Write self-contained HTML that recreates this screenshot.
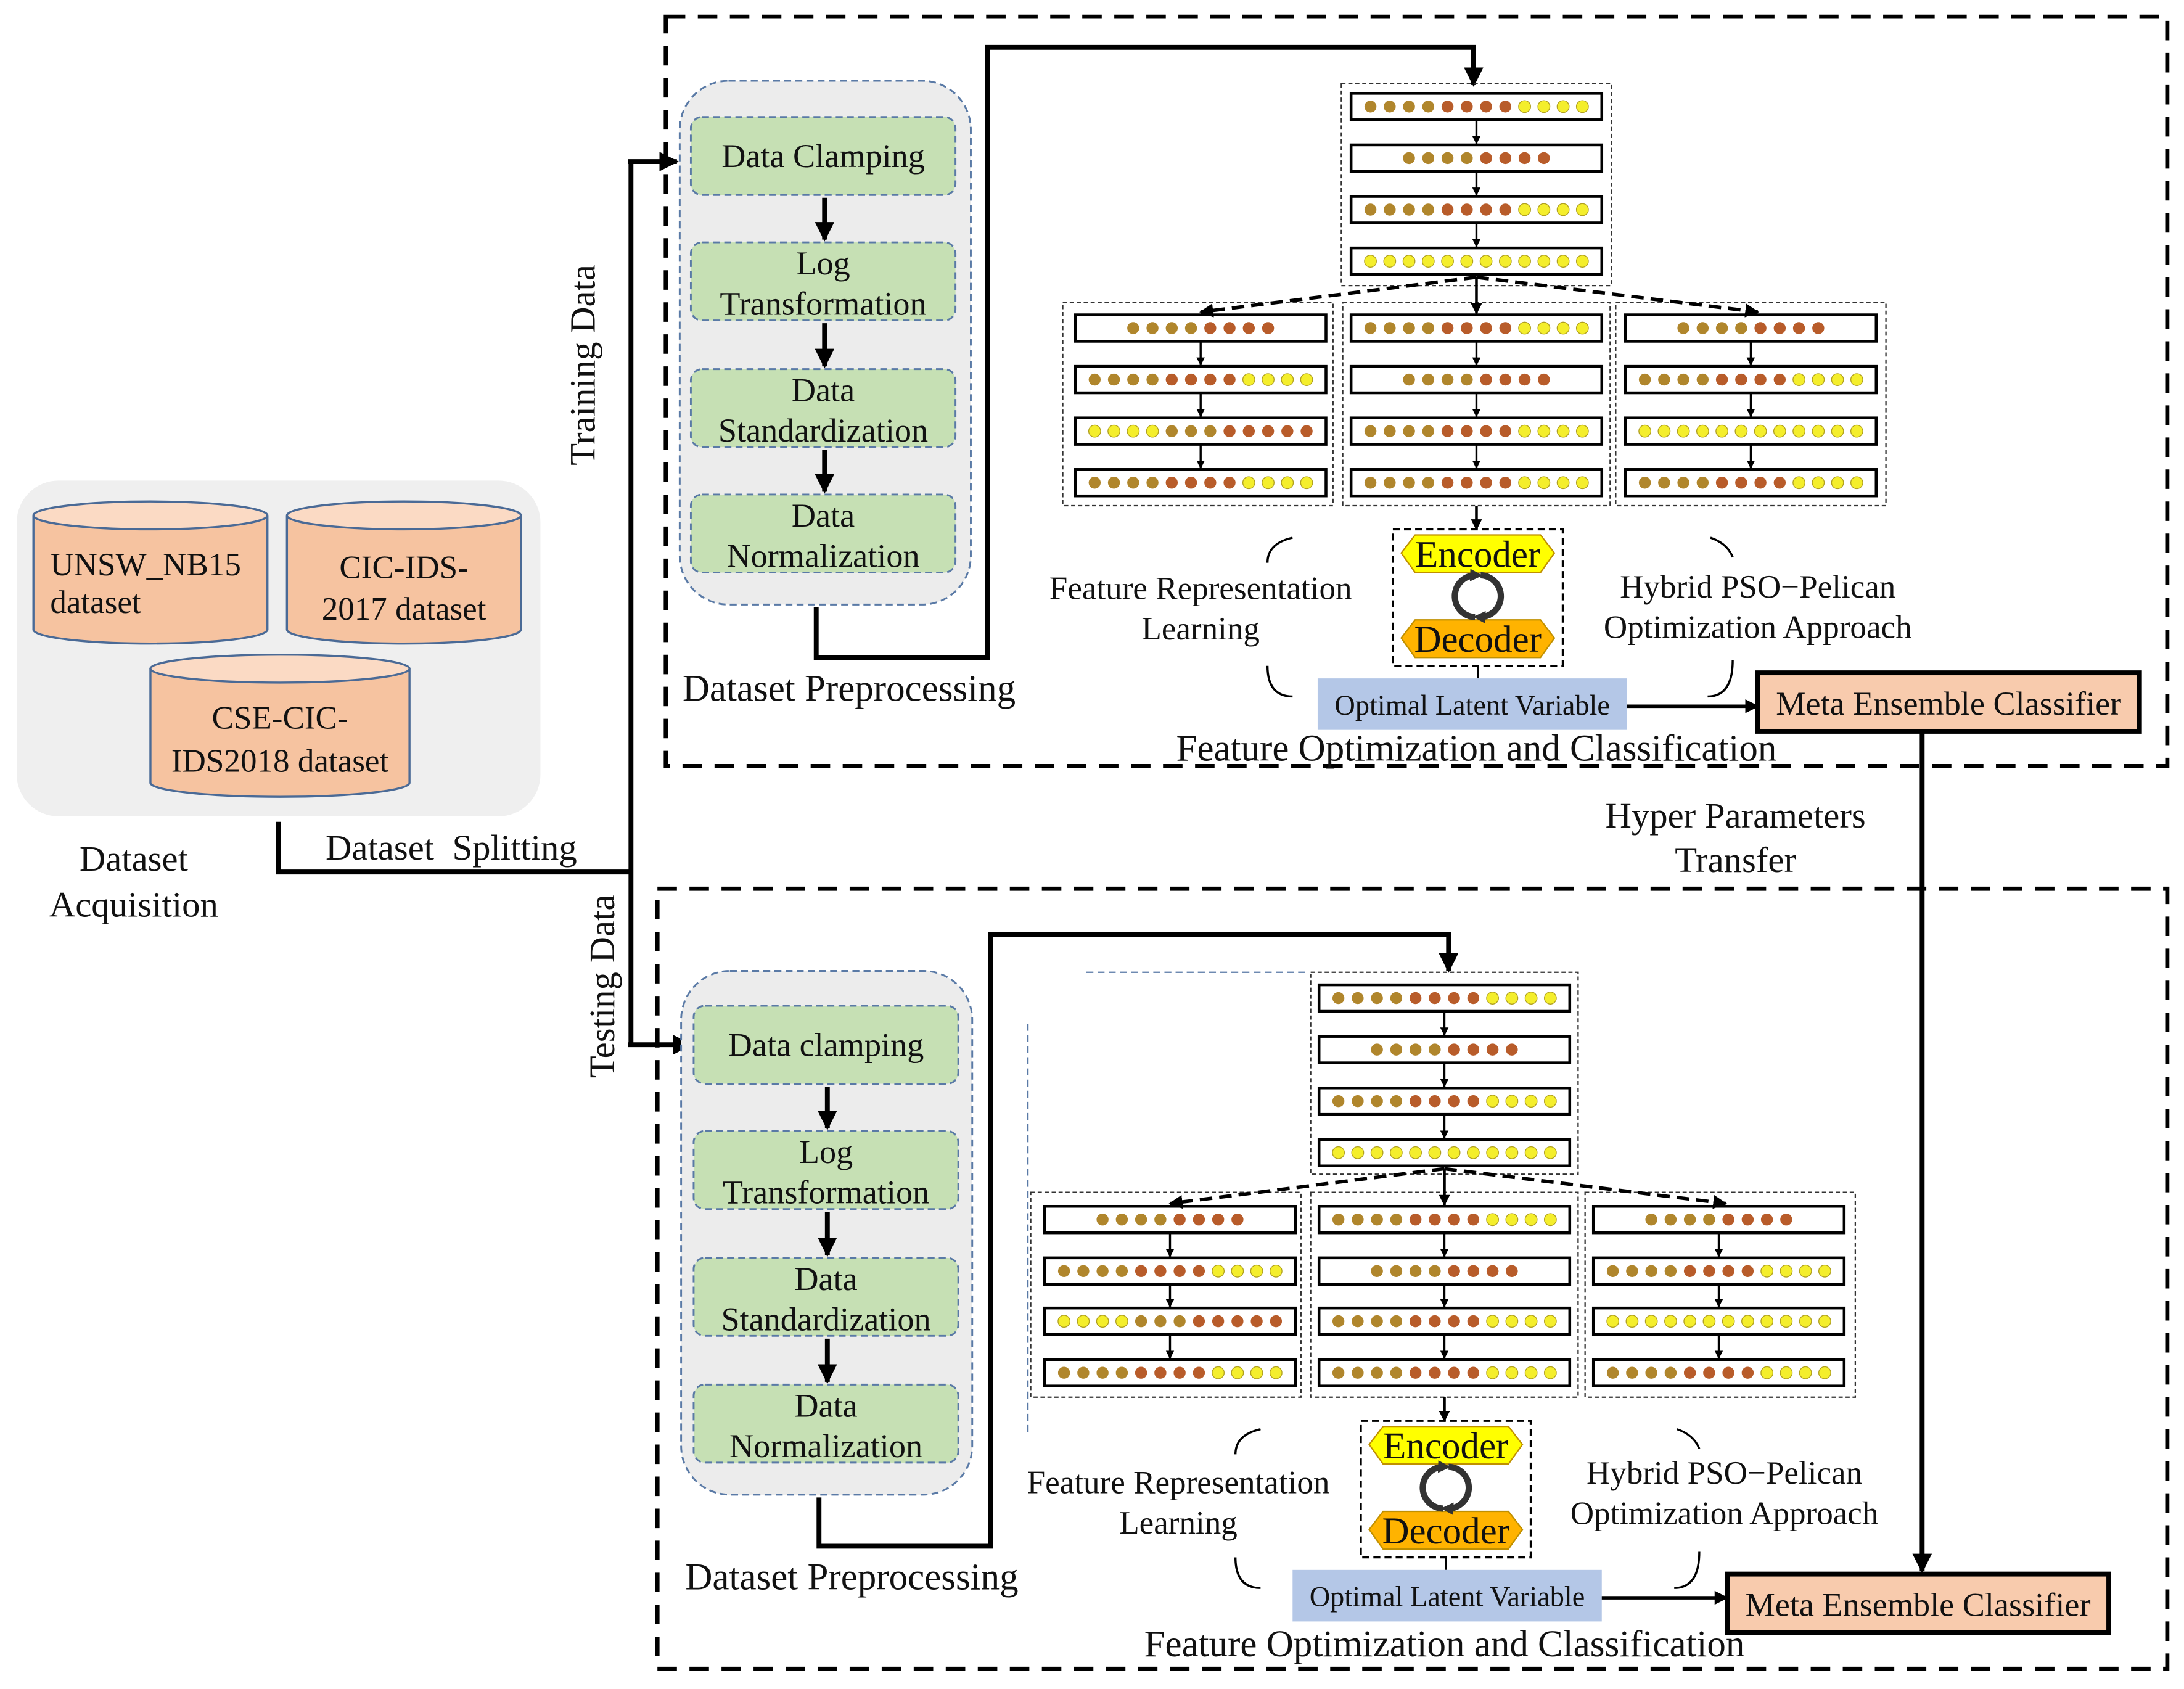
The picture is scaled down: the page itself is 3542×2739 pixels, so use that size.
<!DOCTYPE html>
<html><head><meta charset="utf-8"><style>
html,body{margin:0;padding:0;background:#fff;}
svg{display:block}
text{font-family:"Liberation Serif","Times New Roman",serif;fill:#111}
</style></head><body>
<svg id="s" xmlns="http://www.w3.org/2000/svg" width="3542" height="2739" viewBox="0 0 1568 1212.5" font-family="Liberation Serif, serif">
<defs>
<marker id="ah" viewBox="0 0 10 10" refX="9" refY="5" markerWidth="4" markerHeight="4" orient="auto"><path d="M0,0L10,5L0,10z" fill="#000"/></marker>
<marker id="as" viewBox="0 0 10 10" refX="5" refY="5" markerWidth="9" markerHeight="9" markerUnits="userSpaceOnUse" orient="auto"><path d="M0,0L10,5L0,10z" fill="#333"/></marker>
</defs>
<rect width="1568" height="1213" fill="#fff"/>
<rect x="478" y="12" width="1078" height="538" fill="none" stroke="#000" stroke-width="3" stroke-dasharray="14,9"/>
<rect x="472" y="638" width="1084" height="560" fill="none" stroke="#000" stroke-width="3" stroke-dasharray="14,9"/>
<rect x="12" y="345" width="376" height="241" rx="30" fill="#efefef"/>
<g id="cyl"></g>
<text x="96" y="625" font-size="26" text-anchor="middle">Dataset</text>
<text x="96" y="658" font-size="26" text-anchor="middle">Acquisition</text>
<text x="324" y="617" font-size="26" text-anchor="middle" xml:space="preserve">Dataset  Splitting</text>
<polyline points="200,590 200,626 453,626" fill="none" stroke="#000" stroke-width="3.5"/>
<line x1="453" y1="116" x2="453" y2="750" stroke="#000" stroke-width="3.5"/>
<line x1="451" y1="116" x2="486" y2="116" stroke="#000" stroke-width="3.5" marker-end="url(#ah)"/>
<line x1="451" y1="750" x2="496" y2="750" stroke="#000" stroke-width="3.5" marker-end="url(#ah)"/>
<text transform="translate(427,262) rotate(-90)" font-size="26" text-anchor="middle">Training Data</text>
<text transform="translate(441,708) rotate(-90)" font-size="26" text-anchor="middle">Testing Data</text>
<text x="1246" y="594" font-size="26" text-anchor="middle">Hyper Parameters</text>
<text x="1246" y="626" font-size="26" text-anchor="middle">Transfer</text>
<line x1="1380" y1="526" x2="1380" y2="1128" stroke="#000" stroke-width="3.5" marker-end="url(#ah)"/>
<g id="dyn"></g>
</svg>
<script>
var NS="http://www.w3.org/2000/svg",g=document.getElementById('dyn');
function el(t,a,p){var e=document.createElementNS(NS,t);for(var k in a)e.setAttribute(k,a[k]);(p||g).appendChild(e);return e;}
function tx(x,y,s,str,anc,fill){var e=el('text',{x:x,y:y,'font-size':s,'text-anchor':anc||'middle'});if(fill)e.setAttribute('fill',fill);e.textContent=str;return e;}
var cg=document.getElementById('cyl');
function cyl(x,y,w,h){var ry=10;
 el('path',{d:'M'+x+','+(y+ry)+' L'+x+','+(y+h-ry)+' A'+(w/2)+','+ry+' 0 0 0 '+(x+w)+','+(y+h-ry)+' L'+(x+w)+','+(y+ry),fill:'#f6c3a0',stroke:'#4a6a96','stroke-width':1.5},cg);
 el('ellipse',{cx:x+w/2,cy:y+ry,rx:w/2,ry:ry,fill:'#fbdac4',stroke:'#4a6a96','stroke-width':1.5},cg);}
cyl(24,360,168,102);cyl(206,360,168,102);cyl(108,470,186,102);
tx(36,413,23.5,'UNSW_NB15','start');tx(36,440,23.5,'dataset','start');
tx(290,415,23.5,'CIC-IDS-');tx(290,445,23.5,'2017 dataset');
tx(201,523,23.5,'CSE-CIC-');tx(201,554,23.5,'IDS2018 dataset');
function prep(x,y,bx,bys,names){
 el('rect',{x:x,y:y,width:209,height:376,rx:35,fill:'#ececec',stroke:'#5a7aa6','stroke-width':1.3,'stroke-dasharray':'5,3'});
 for(var i=0;i<4;i++){var by=bys[i];
  el('rect',{x:bx,y:by,width:190,height:56,rx:8,fill:'#c6e0b4',stroke:'#5a7aa6','stroke-width':1.3,'stroke-dasharray':'5,3'});
  var n=names[i];
  if(n.length==1)tx(bx+95,by+36,24,n[0]);else{tx(bx+95,by+23,24,n[0]);tx(bx+95,by+52,24,n[1]);}
  if(i<3){el('line',{x1:bx+96,y1:by+58,x2:bx+96,y2:bys[i+1]-2,stroke:'#000','stroke-width':3.5,'marker-end':'url(#ah)'});}
 }}
prep(488,58,496,[84,174,265,355],[['Data Clamping'],['Log','Transformation'],['Data','Standardization'],['Data','Normalization']]);
prep(489,697,498,[722,812,903,994],[['Data clamping'],['Log','Transformation'],['Data','Standardization'],['Data','Normalization']]);
tx(490,503,27,'Dataset Preprocessing','start');
tx(492,1141,27,'Dataset Preprocessing','start');
el('polyline',{points:'586,436 586,472 709,472 709,34 1058,34 1058,61',fill:'none',stroke:'#000','stroke-width':3.5,'marker-end':'url(#ah)'});
el('polyline',{points:'588,1075 588,1110 711,1110 711,671 1040,671 1040,697',fill:'none',stroke:'#000','stroke-width':3.5,'marker-end':'url(#ah)'});
var O='#b0862c',R='#b85c2a',Y='#f4ee2c';
var P={A:[O,O,O,O,R,R,R,R,Y,Y,Y,Y],B:[O,O,O,O,R,R,R,R],C:[Y,Y,Y,Y,Y,Y,Y,Y,Y,Y,Y,Y],D:[Y,Y,Y,Y,O,O,O,R,R,R,R,R]};
function row(x,y,w,t){el('rect',{x:x,y:y,width:w,height:19,fill:'#fff',stroke:'#000','stroke-width':2});
 var c=P[t],sp=(w-14)/12,st=x+7+sp/2+(12-c.length)*sp/2;
 for(var i=0;i<c.length;i++)el('circle',{cx:st+i*sp,cy:y+9.5,r:4.3,fill:c[i],stroke:c[i]==Y?'#b0a020':'none','stroke-width':0.6});}
function stack(x,ys,w,types,bx,by,bw,bh){
 el('rect',{x:bx,y:by,width:bw,height:bh,fill:'none',stroke:'#333','stroke-width':1,'stroke-dasharray':'3,2'});
 for(var i=0;i<4;i++){row(x,ys[i],w,types[i]);if(i<3)el('line',{x1:x+w/2,y1:ys[i]+19,x2:x+w/2,y2:ys[i+1]-1,stroke:'#000','stroke-width':1.5,'marker-end':'url(#ah)'});}}
function net(o){
 var cx=o.cx;
 stack(o.tx,o.tys,180,['A','B','A','C'],o.tb[0],o.tb[1],o.tb[2],o.tb[3]);
 stack(o.lx,o.sys,180,['B','A','D','A'],o.lb,o.sy,194,o.sh);
 stack(o.mx,o.sys,180,['A','B','A','A'],o.mb,o.sy,o.mw,o.sh);
 stack(o.rx,o.sys,180,['B','A','C','A'],o.rb,o.sy,194,o.sh);
 var y0=o.tys[3]+21;
 el('line',{x1:cx,y1:y0,x2:cx,y2:o.sys[0]-1,stroke:'#000','stroke-width':2,'marker-end':'url(#ah)'});
 el('line',{x1:cx,y1:y0,x2:o.lx+90,y2:o.sys[0]-2,stroke:'#000','stroke-width':2.5,'stroke-dasharray':'9,5','marker-end':'url(#ah)'});
 el('line',{x1:cx,y1:y0,x2:o.rx+95,y2:o.sys[0]-2,stroke:'#000','stroke-width':2.5,'stroke-dasharray':'9,5','marker-end':'url(#ah)'});
 el('line',{x1:cx,y1:o.sy+o.sh,x2:cx,y2:o.ey,stroke:'#000','stroke-width':2,'marker-end':'url(#ah)'});
 var ex=o.ex,ey=o.ey;
 el('rect',{x:ex,y:ey,width:122,height:98,fill:'none',stroke:'#000','stroke-width':1.5,'stroke-dasharray':'5,3'});
 function hex(y,f,t){el('polygon',{points:(ex+6)+','+(y+13)+' '+(ex+16)+','+y+' '+(ex+106)+','+y+' '+(ex+116)+','+(y+13)+' '+(ex+106)+','+(y+27)+' '+(ex+16)+','+(y+27),fill:f,stroke:'#c09000','stroke-width':1});tx(ex+61,y+23,27,t);}
 hex(ey+4,'#ffff00','Encoder');hex(ey+65,'#ffb300','Decoder');
 var mx=ex+61,my=ey+48;
 el('path',{d:'M'+(mx-2)+','+(my+15)+' A15,15 0 0 1 '+(mx-1)+','+(my-15),fill:'none',stroke:'#333','stroke-width':4.5,'marker-end':'url(#as)'});
 el('path',{d:'M'+(mx+2)+','+(my-15)+' A15,15 0 0 1 '+(mx+1)+','+(my+15),fill:'none',stroke:'#333','stroke-width':4.5,'marker-end':'url(#as)'});
 el('line',{x1:mx,y1:ey+98,x2:mx,y2:o.oy,stroke:'#000','stroke-width':1.5});
 el('rect',{x:o.ox,y:o.oy,width:222,height:37,fill:'#b4c7e7'});
 tx(o.ox+111,o.oy+26,20.5,'Optimal Latent Variable');
 el('line',{x1:o.ox+222,y1:o.oy+20,x2:o.mcx,y2:o.oy+20,stroke:'#000','stroke-width':2.5,'marker-end':'url(#ah)'});
 el('rect',{x:o.mcx,y:o.mcy,width:274,height:42,fill:'#f8cbad',stroke:'#000','stroke-width':3.5});
 tx(o.mcx+137,o.mcy+30,24,'Meta Ensemble Classifier');
 tx(o.fx,o.fy,23.5,'Feature Representation');tx(o.fx,o.fy+29,23.5,'Learning');
 tx(o.hx,o.hy,23.5,'Hybrid PSO\u2212Pelican');tx(o.hx,o.hy+29,23.5,'Optimization Approach');
 tx(cx,o.foy,27,'Feature Optimization and Classification');
 var bl=o.brl,br=o.brr,bt=o.brt,bb=o.brb;
 el('path',{d:'M'+(bl+18)+','+bt+' Q'+bl+','+(bt+4)+' '+bl+','+(bt+18),fill:'none',stroke:'#000','stroke-width':1.5});
 el('path',{d:'M'+bl+','+(bb-22)+' Q'+bl+','+bb+' '+(bl+18)+','+bb,fill:'none',stroke:'#000','stroke-width':1.5});
 el('path',{d:'M'+(br-12)+','+bt+' Q'+br+','+(bt+4)+' '+(br+4)+','+(bt+14),fill:'none',stroke:'#000','stroke-width':1.5});
 el('path',{d:'M'+(br+4)+','+(bb-26)+' Q'+(br+4)+','+bb+' '+(br-14)+','+bb,fill:'none',stroke:'#000','stroke-width':1.5});
}
net({cx:1060,tx:970,tys:[67,104,141,178],tb:[963,60,194,145],lx:772,mx:970,rx:1167,sys:[226,263,300,337],sy:217,sh:146,lb:763,mb:964,mw:192,rb:1160,
 ex:1000,ey:380,ox:946,oy:487,mcx:1262,mcy:483,fx:862,fy:430,hx:1262,hy:429,foy:546,brl:910,brr:1240,brt:386,brb:500});
net({cx:1037,tx:947,tys:[707,744,781,818],tb:[941,698,192,145],lx:750,mx:947,rx:1144,sys:[866,903,939,976],sy:856,sh:147,lb:740,mb:941,mw:192,rb:1138,
 ex:977,ey:1020,ox:928,oy:1127,mcx:1240,mcy:1130,fx:846,fy:1072,hx:1238,hy:1065,foy:1189,brl:887,brr:1216,brt:1026,brb:1140});
el('line',{x1:780,y1:698,x2:940,y2:698,stroke:'#5a7aa6','stroke-width':1,'stroke-dasharray':'5,3'});
el('line',{x1:738,y1:735,x2:738,y2:1030,stroke:'#5a7aa6','stroke-width':1,'stroke-dasharray':'5,3'});
</script>
</body></html>
